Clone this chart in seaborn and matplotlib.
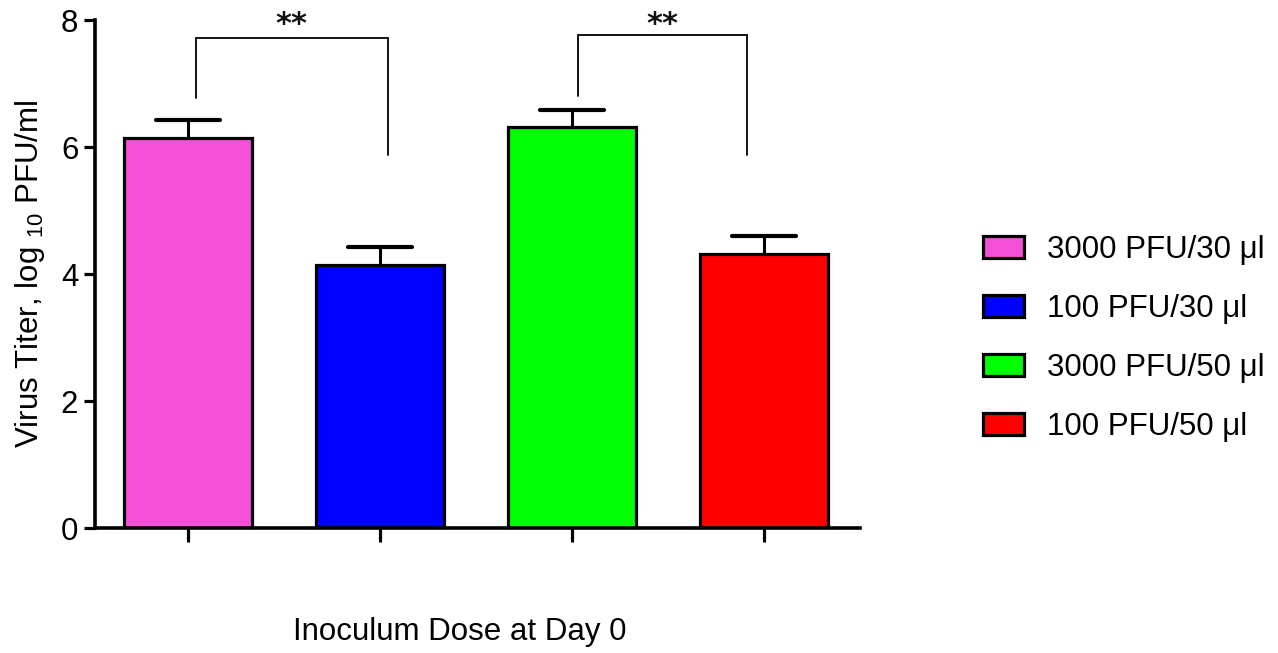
import matplotlib
matplotlib.use("Agg")
import matplotlib.pyplot as plt
import seaborn as sns
import pandas as pd

# Inoculum groups and measured virus titers (log10 PFU/ml)
groups = ["3000 PFU/30 \u03bcl", "100 PFU/30 \u03bcl", "3000 PFU/50 \u03bcl", "100 PFU/50 \u03bcl"]
titer_mean = [6.15, 4.14, 6.31, 4.31]
titer_sem = [0.28, 0.29, 0.28, 0.29]
bar_colors = ["#F550D8", "#0000FF", "#00FF00", "#FF0000"]

# Significance brackets: (x left, x right, left end, right end, top, label)
brackets = [
    (0.04, 1.04, 6.78, 5.87, 7.71, "**"),
    (2.03, 2.91, 6.81, 5.87, 7.76, "**"),
]

sns.set_theme(style="ticks")
plt.rcParams["font.family"] = ["Liberation Sans", "DejaVu Sans"]
plt.rcParams["mathtext.fontset"] = "custom"
plt.rcParams["mathtext.rm"] = "Liberation Sans"
plt.rcParams["mathtext.it"] = "Liberation Sans"
for key in ("text.color", "axes.labelcolor", "xtick.color", "ytick.color", "axes.edgecolor"):
    plt.rcParams[key] = "black"

FS = 22.5

df = pd.DataFrame({"group": groups, "titer": titer_mean})

fig = plt.figure(figsize=(12.78, 6.53), dpi=100)
ax = fig.add_axes([0.0743, 0.1914, 0.5987, 0.7779])

sns.barplot(data=df, x="group", y="titer", hue="group", palette=bar_colors,
            order=groups, hue_order=groups, width=0.667, dodge=False,
            saturation=1, errorbar=None, edgecolor="black", linewidth=2.3,
            ax=ax, legend=True)

# Upper-only error bars (stem + cap)
xs = list(range(len(groups)))
tops = [m + s for m, s in zip(titer_mean, titer_sem)]
cap_half = 0.168
ax.vlines(xs, titer_mean, tops, colors="black", lw=2.2, zorder=1)
ax.hlines(tops, [x - cap_half for x in xs], [x + cap_half for x in xs],
          colors="black", lw=3.0, capstyle="round", zorder=1)

for (xl, xr, yl, yr, ytop, label) in brackets:
    ax.plot([xl, xl, xr, xr], [yl, ytop, ytop, yr], color="black", lw=1.3,
            clip_on=False, solid_joinstyle="miter")
    ax.text((xl + xr) / 2, 7.93, label, ha="center", va="center", fontsize=22,
            fontweight="bold", family="DejaVu Sans", color="#111111", clip_on=False)

ax.set_ylim(0, 8)
ax.set_xlim(-0.484, 3.5)
ax.set_yticks([0, 2, 4, 6, 8])
ax.set_xticks(xs)
ax.set_xticklabels([""] * len(groups))
ax.tick_params(axis="both", direction="out", width=2.3, color="black", labelsize=FS)
ax.tick_params(axis="y", length=8, pad=4)
ax.tick_params(axis="x", length=10)
for side in ("left", "bottom"):
    ax.spines[side].set_linewidth(2.6)
    ax.spines[side].set_color("black")
sns.despine(ax=ax)

ax.set_ylabel("Virus Titer, log $_{10}$ PFU/ml", fontsize=FS)
ax.yaxis.set_label_coords(-0.085, 0.5)
ax.yaxis.label.set_va("center")
ax.set_xlabel("Inoculum Dose at Day 0", fontsize=FS)
ax.xaxis.set_label_coords(0.477, -0.205)
ax.xaxis.label.set_va("center")

handles, labels = ax.get_legend_handles_labels()
ax.get_legend().remove()
for h in handles:
    h.set_edgecolor("black")
    h.set_linewidth(2.3)
fig.legend(handles, labels, loc="center left", bbox_to_anchor=(0.769, 0.482),
           frameon=False, fontsize=FS, handlelength=1.32, handleheight=0.7,
           handletextpad=0.74, labelspacing=0.93, borderpad=0, borderaxespad=0)

fig.savefig("out.png", dpi=100)
